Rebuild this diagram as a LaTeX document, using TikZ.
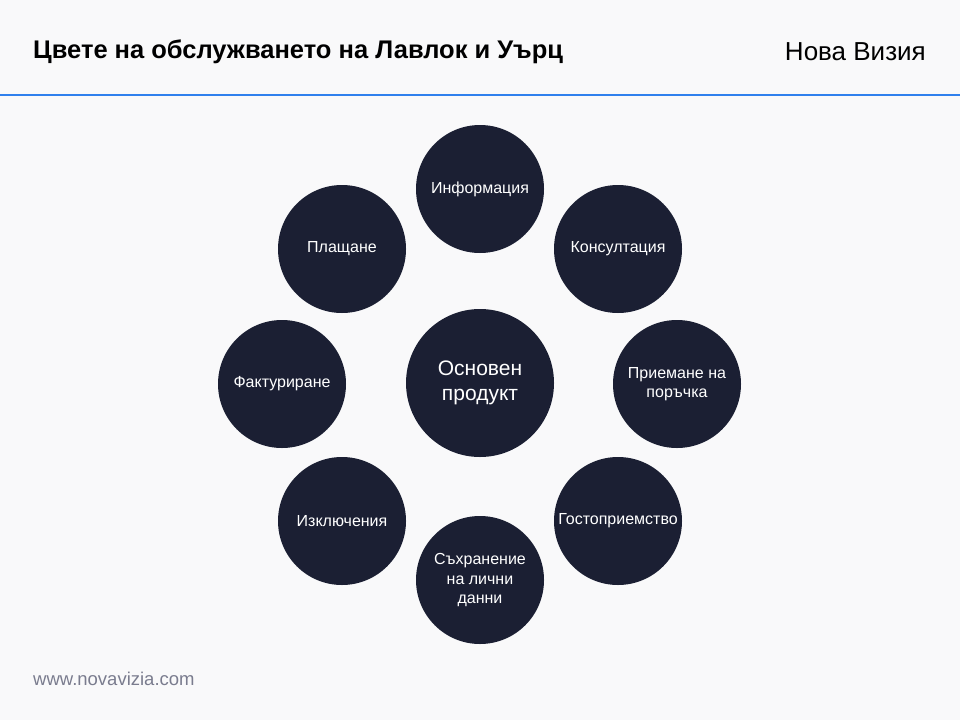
\documentclass[tikz,border=0pt]{standalone}
\usepackage{fontspec}
\setmainfont{Liberation Sans}
\definecolor{bg}{RGB}{249,249,250}
\definecolor{navy}{RGB}{27,31,51}
\definecolor{blueline}{RGB}{47,128,237}
\definecolor{footgray}{RGB}{122,124,142}
\begin{document}
\begin{tikzpicture}[x=1pt,y=-1pt,
  bubble/.style={circle,fill=navy,draw=none,text=white,minimum size=128pt,inner sep=0pt,align=center,font=\fontsize{16}{19.5}\selectfont},
  core/.style={circle,fill=navy,draw=none,text=white,minimum size=148pt,inner sep=0pt,align=center,font=\fontsize{21}{25}\selectfont}]
\fill[bg] (0,0) rectangle (960,720);
\useasboundingbox (0,0) rectangle (960,720);
\draw[blueline,line width=2pt] (0,95) -- (960,95);
\node[anchor=west,inner sep=0pt,font=\fontsize{25.5}{30}\selectfont\bfseries] (title) at (33,52) {Цвете на обслужването на Лавлок и Уърц};
\node[anchor=east,inner sep=0pt,font=\fontsize{26}{30}\selectfont] (brand) at (926,52) {Нова Визия};
\node[anchor=west,inner sep=0pt,text=footgray,font=\fontsize{18.5}{22}\selectfont] (foot) at (33,679) {www.novavizia.com};
\node[core] (c) at (480,383) {Основен\\продукт};
\node[bubble] (n1) at (480,189) {Информация};
\node[bubble] (n2) at (618,249) {Консултация};
\node[bubble] (n3) at (677,384) {Приемане на\\поръчка};
\node[bubble] (n4) at (618,521) {Гостоприемство};
\node[bubble] (n5) at (480,580) {Съхранение\\на лични\\данни};
\node[bubble] (n6) at (342,521) {Изключения};
\node[bubble] (n7) at (282,384) {Фактуриране};
\node[bubble] (n8) at (342,249) {Плащане};
\end{tikzpicture}
\end{document}
